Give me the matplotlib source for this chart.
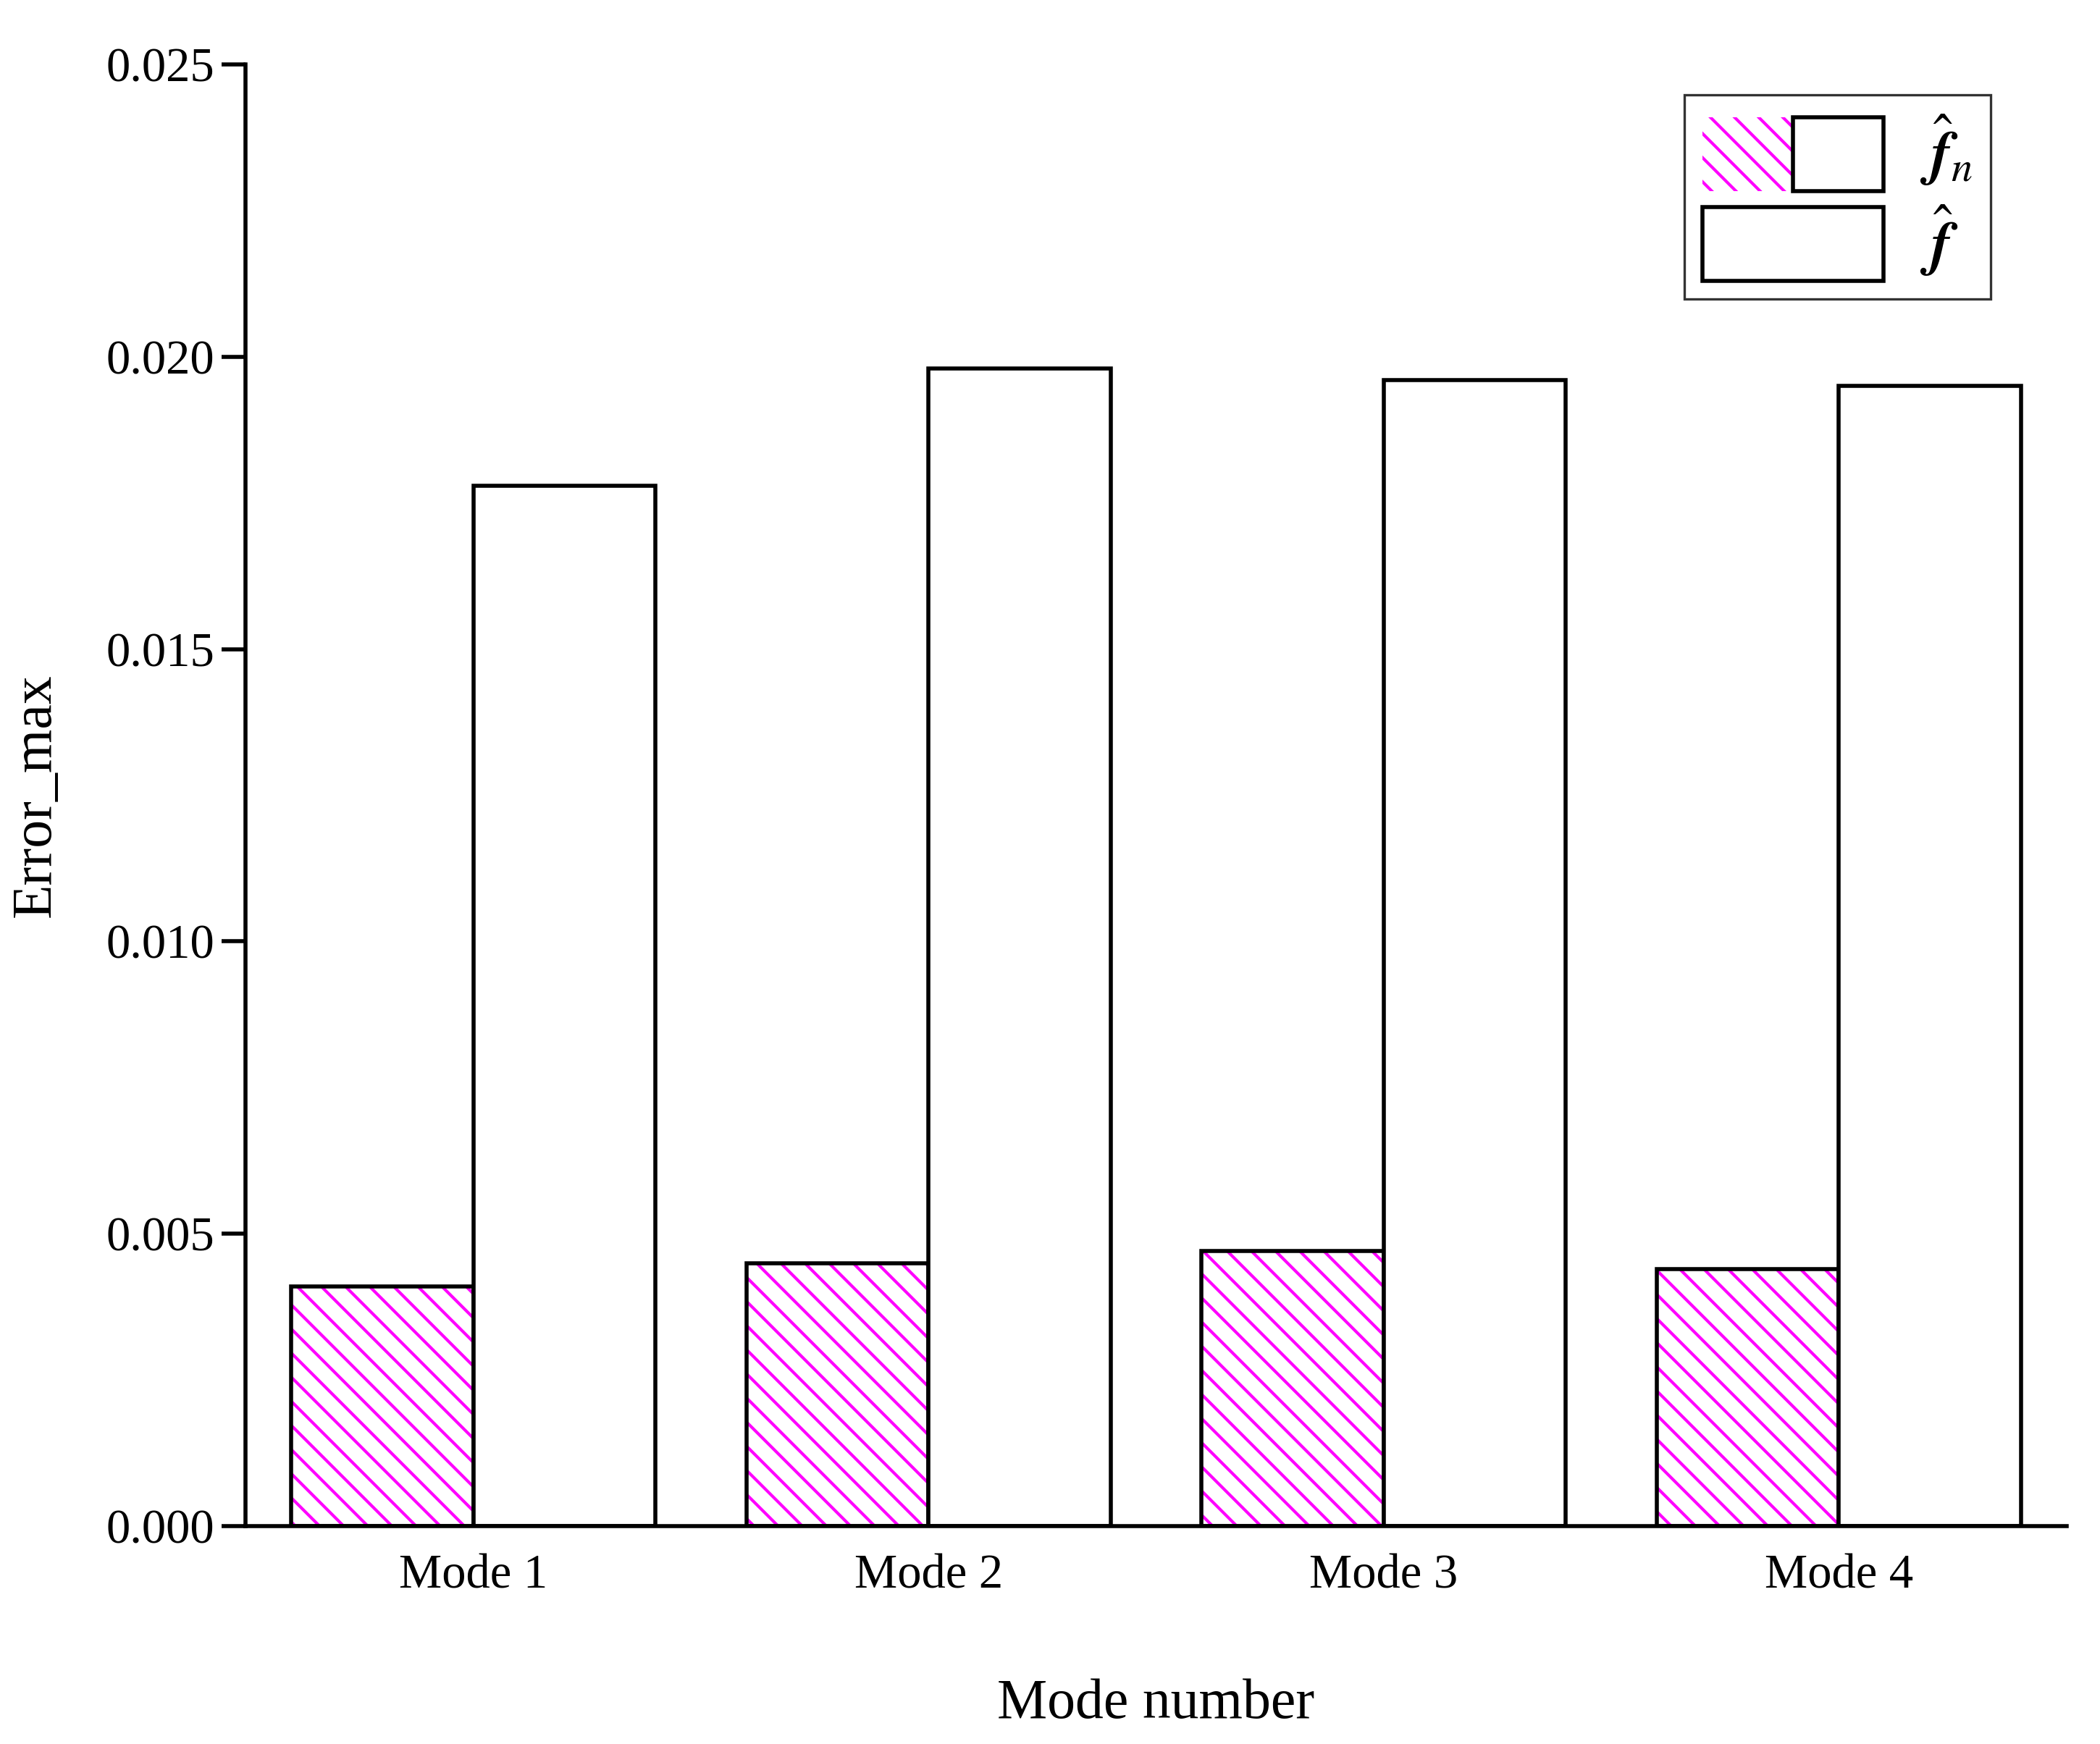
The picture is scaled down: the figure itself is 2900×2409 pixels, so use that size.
import matplotlib
matplotlib.use("Agg")
import matplotlib.pyplot as plt
from matplotlib.patches import Patch
from matplotlib.legend_handler import HandlerTuple
import numpy as np

plt.rcParams['font.family'] = ['Liberation Serif', 'DejaVu Serif']
plt.rcParams['mathtext.fontset'] = 'stix'
plt.rcParams['hatch.linewidth'] = 1.5

modes = ["Mode 1", "Mode 2", "Mode 3", "Mode 4"]
err_fn = [0.0041, 0.0045, 0.0047, 0.0044]
err_f = [0.0178, 0.0198, 0.0196, 0.0195]

fig = plt.figure(figsize=(14.5, 12.045), dpi=200)
ax = fig.add_axes([0.117, 0.125, 0.867, 0.838])

x = np.arange(len(modes))
w = 0.4
ax.bar(x - w / 2, err_fn, w, facecolor='white', edgecolor='magenta', hatch='\\\\', linewidth=0)
ax.bar(x - w / 2, err_fn, w, facecolor='none', edgecolor='black', linewidth=2)
ax.bar(x + w / 2, err_f, w, facecolor='white', edgecolor='black', linewidth=2)

ax.set_xlim(-0.5, 3.5)
ax.set_ylim(0, 0.025)
ax.set_yticks([0, 0.005, 0.010, 0.015, 0.020, 0.025])
ax.set_yticklabels(["0.000", "0.005", "0.010", "0.015", "0.020", "0.025"])
ax.set_xticks(x)
ax.set_xticklabels(modes)
ax.tick_params(axis='y', labelsize=24, width=2, length=12, direction='out')
ax.tick_params(axis='x', labelsize=24, length=0, pad=14)
ax.spines['top'].set_visible(False)
ax.spines['right'].set_visible(False)
ax.spines['left'].set_linewidth(2)
ax.spines['bottom'].set_linewidth(2)
ax.set_xlabel("Mode number", fontsize=28, labelpad=40)
ax.set_ylabel("Error_max", fontsize=28, labelpad=22)

# legend: magenta hatch under a black frame
hatch_patch = Patch(facecolor='white', edgecolor='magenta', hatch='\\\\', linewidth=0)
frame_patch = Patch(facecolor='none', edgecolor='black', linewidth=2)
plain_patch = Patch(facecolor='white', edgecolor='black', linewidth=2)
leg = ax.legend([(hatch_patch, frame_patch), plain_patch],
                [r'$\hat{\boldsymbol{f}}_{n}$', r'$\hat{\boldsymbol{f}}$'],
                handler_map={tuple: HandlerTuple(ndivide=None, pad=0)},
                loc='upper right', bbox_to_anchor=(0.975, 1.0), fontsize=30, fancybox=False,
                edgecolor='black', handlelength=3.0, handleheight=1.5, borderpad=0.3,
                labelspacing=0.2, handletextpad=0.6)
leg.get_frame().set_linewidth(1.2)

fig.savefig("out.png")
